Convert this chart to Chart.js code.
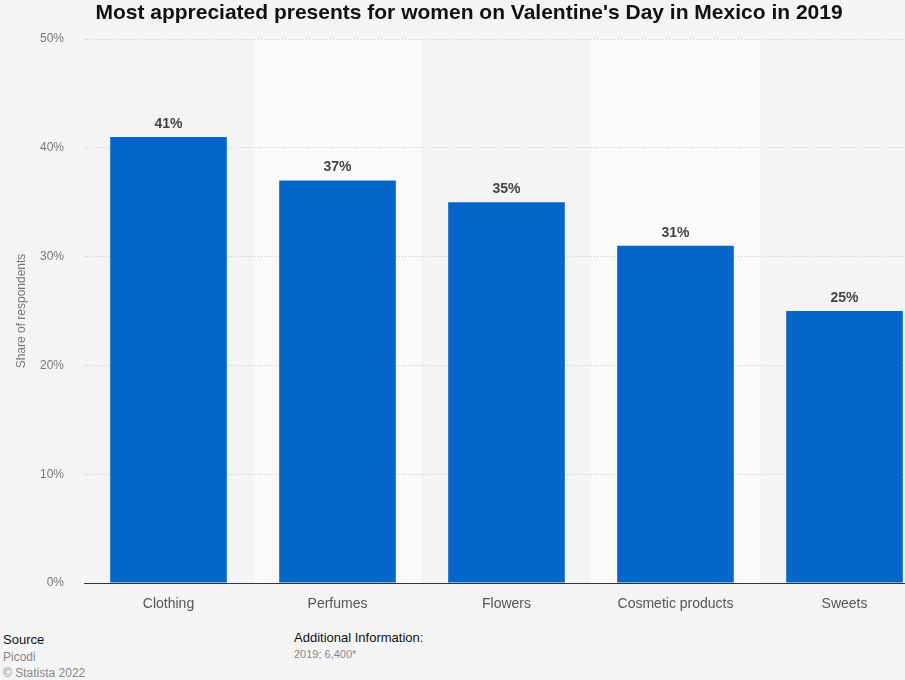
<!DOCTYPE html>
<html>
<head>
<meta charset="utf-8">
<script src="https://cdn.jsdelivr.net/npm/chart.js@4.4.0/dist/chart.umd.min.js"></script>
<style>
  html, body { margin: 0; padding: 0; background: #f4f4f4; overflow: hidden; width: 905px; height: 680px; }
  body { position: relative; font-family: "Liberation Sans", Arial, sans-serif; }
  #wrap { position: absolute; left: 0; top: 0; width: 938px; height: 630px; }
  #title { position: absolute; left: 0; top: 0; width: 938px; text-align: center; font-weight: bold; font-size: 21px; color: #111; line-height: 24px; }
  .foot { position: absolute; font-size: 13px; line-height: 16px; }
</style>
</head>
<body>
<div id="wrap"><canvas id="chart" width="938" height="630"></canvas></div>
<div id="title">Most appreciated presents for women on Valentine's Day in Mexico in 2019</div>
<div class="foot" style="left:3px; top:632px; color:#111;">Source</div>
<div class="foot" style="left:3px; top:649px; color:#888; font-size:12px;">Picodi</div>
<div class="foot" style="left:3px; top:665px; color:#888; font-size:12px;">© Statista 2022</div>
<div class="foot" style="left:294px; top:630px; color:#111;">Additional Information:</div>
<div class="foot" style="left:294px; top:646px; color:#888; font-size:11px;">2019; 6,400*</div>
<script>
const categories = ['Clothing', 'Perfumes', 'Flowers', 'Cosmetic products', 'Sweets'];
const shares = [41, 37, 35, 31, 25];
const yTicks = [0, 10, 20, 30, 40, 50];

// alternating column bands behind the bars
const bandPlugin = {
    id: 'bands',
    beforeDraw(chart) {
        const { ctx, chartArea, scales } = chart;
        const x = scales.x;
        const step = x.getPixelForValue(1) - x.getPixelForValue(0);
        ctx.save();
        categories.forEach((c, i) => {
            const cx = x.getPixelForValue(i);
            ctx.fillStyle = i % 2 === 0 ? '#f4f4f4' : '#fafafa';
            ctx.fillRect(cx - step / 2, chartArea.top, step, chartArea.bottom - chartArea.top);
        });
        ctx.restore();
    }
};

// value labels above bars
const labelPlugin = {
    id: 'valueLabels',
    afterDatasetsDraw(chart) {
        const { ctx } = chart;
        const meta = chart.getDatasetMeta(0);
        ctx.save();
        ctx.font = 'bold 14px "Liberation Sans", Arial, sans-serif';
        ctx.fillStyle = '#444';
        ctx.textAlign = 'center';
        ctx.textBaseline = 'bottom';
        meta.data.forEach((bar, i) => {
            ctx.fillText(shares[i] + '%', bar.x, bar.y - 6);
        });
        ctx.restore();
    }
};

new Chart(document.getElementById('chart').getContext('2d'), {
    type: 'bar',
    data: {
        labels: categories,
        datasets: [{
            data: shares,
            backgroundColor: '#0466c8',
            borderWidth: 0,
            barPercentage: 0.69,
            categoryPercentage: 1,
        }],
    },
    options: {
        responsive: false,
        animation: false,
        layout: { padding: { top: 39, right: 9, left: 0, bottom: 0 } },
        plugins: {
            legend: { display: false },
            tooltip: { enabled: false },
        },
        scales: {
            x: {
                grid: { display: false, drawTicks: false },
                border: { display: true, color: '#333', width: 1 },
                ticks: {
                    color: '#555',
                    padding: 13,
                    font: { family: '"Liberation Sans", Arial, sans-serif', size: 14 },
                },
                afterFit(s) { s.height = 47; },
            },
            y: {
                min: 0,
                max: 50,
                afterBuildTicks(s) { s.ticks = yTicks.map(v => ({ value: v })); },
                grid: {
                    drawTicks: false,
                    color: ctx => ctx.tick && ctx.tick.value === 0 ? 'rgba(0,0,0,0)' : '#c8c8c8',
                    lineWidth: 1,
                },
                border: { display: false, dash: [1, 2] },
                ticks: {
                    color: '#777',
                    padding: 20,
                    font: { family: '"Liberation Sans", Arial, sans-serif', size: 12 },
                    callback: v => v + '%',
                },
                title: {
                    display: true,
                    text: 'Share of respondents',
                    color: '#777',
                    padding: { top: 14, bottom: 0 },
                    font: { family: '"Liberation Sans", Arial, sans-serif', size: 12 },
                },
                afterFit(s) { s.width = 84; },
            },
        },
    },
    plugins: [bandPlugin, labelPlugin],
});
</script>
</body>
</html>
